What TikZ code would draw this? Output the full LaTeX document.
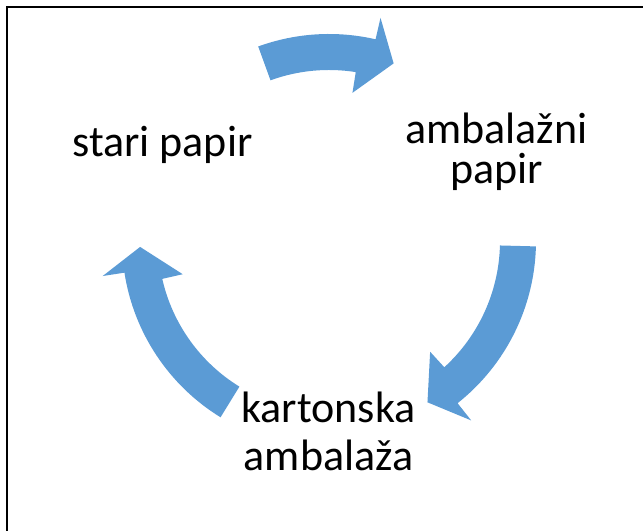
\documentclass[tikz,border=0pt]{standalone}
\usepackage{fontspec}
\setmainfont{Carlito}
\usetikzlibrary{calc}
\definecolor{cycleblue}{HTML}{5B9BD5}

% thick clockwise block arrow round (c): #1 tail angle, #2 tip angle
\newcommand{\cyclearrow}[2]{%
  \fill[cycleblue] ($(c)+(#1:207)$) arc[start angle=#1, end angle=#2+7, radius=207]
    -- ($(c)+(#2+7:229)$) -- ($(c)+(#2:189)$) -- ($(c)+(#2+11:150)$)
    -- ($(c)+(#2+11:171)$) arc[start angle=#2+11, end angle=#1, radius=171] -- cycle;}

\begin{document}
\begin{tikzpicture}[x=0.75pt, y=0.75pt,
    lbl/.style={inner sep=0pt, font=\fontsize{33}{30}\selectfont}]
      \useasboundingbox (0,0) rectangle (643,531);
      \draw[line width=1.5pt] (6.5,0) -- (6.5,523.5) -- (643,523.5);
      \coordinate (c) at (329,290);
      \node[lbl, anchor=base] (stari) at (162.5,374) {stari papir};
      \node[lbl, anchor=base, align=center] (ambal) at (496.5,347) {ambalažni\\papir};
      \node[lbl, anchor=base, align=center, font=\fontsize{33}{36.2}\selectfont] (karton) at (328.5,60) {kartonska\\ambalaža};
      \cyclearrow{110}{70}
      \cyclearrow{-1.5}{-58.6}
      \cyclearrow{238.4}{181.8}
    \end{tikzpicture}
\end{document}
